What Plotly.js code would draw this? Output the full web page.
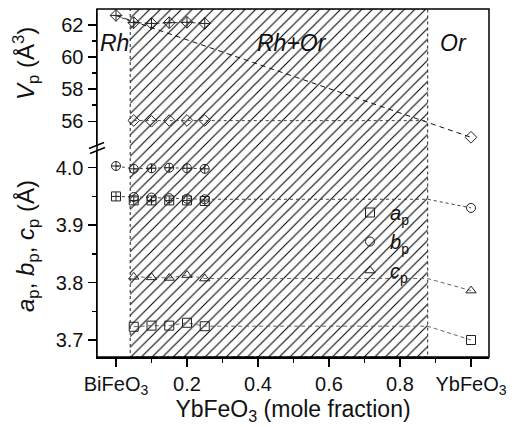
<!DOCTYPE html>
<html>
<head>
<meta charset="utf-8">
<script src="https://cdn.plot.ly/plotly-3.0.1.min.js"></script>
<style>html,body{margin:0;padding:0;background:#fff;}#chart{width:514px;height:427px;}</style>
</head>
<body>
<div id="chart"></div>
<script>
// ---- data ----
const xMix = [0.05, 0.10, 0.15, 0.20, 0.25];
const xBi = [0];
const xYb = [1];
const phaseBoundary = [0.04, 0.878];

// Unit-cell volume (top panel)
const vRhBi = [62.6];
const vRhMix = [62.15, 62.1, 62.15, 62.17, 62.1];
const vOrMix = [56.05, 56.0, 56.05, 56.05, 56.05];
const vOrYb = [55.0];

// Lattice parameters (bottom panel)
const rhBBi = [4.003];
const rhBMix = [3.998, 3.999, 4.0, 3.999, 3.998];
const rhABi = [3.950];
const rhAMix = [3.943, 3.943, 3.943, 3.943, 3.942];
const orBMix = [3.949, 3.948, 3.947, 3.946, 3.945];
const orBYb = [3.930];
const orCMix = [3.810, 3.809, 3.808, 3.813, 3.807];
const orCYb = [3.786];
const orAMix = [3.723, 3.725, 3.725, 3.730, 3.724];
const orAYb = [3.700];

const xTickVals = [0, 0.2, 0.4, 0.6, 0.8, 1.0];
const xTickText = ['BiFeO<sub>3</sub>', '0.2', '0.4', '0.6', '0.8', 'YbFeO<sub>3</sub>'];
const legendNames = ['<i>a</i><sub>p</sub>', '<i>b</i><sub>p</sub>', '<i>c</i><sub>p</sub>'];

// ---- helpers ----
const FONT = 'Liberation Sans, Arial, sans-serif';
const mk = (symbol) => ({symbol: symbol, size: 9, color: '#222', line: {color: '#222', width: 1}});
const avg = a => a.reduce((s, v) => s + v, 0) / a.length;
const last = a => a[a.length - 1];

const traces = [];
// hatch region
traces.push({
  x: [phaseBoundary[0], phaseBoundary[1], phaseBoundary[1], phaseBoundary[0], phaseBoundary[0]],
  y: [0, 0, 1, 1, 0], xaxis: 'x', yaxis: 'y', mode: 'lines', fill: 'toself',
  fillcolor: 'rgba(0,0,0,0)',
  fillpattern: {shape: '/', size: 7.5, solidity: 0.14, fgcolor: '#000', bgcolor: 'rgba(0,0,0,0)'},
  line: {color: '#222', width: 1, dash: 'dot'}, showlegend: false, hoverinfo: 'skip'
});

// ---- top panel lines ----
traces.push({x: [xBi[0], xYb[0]], y: [vRhBi[0], vOrYb[0]], xaxis: 'x', yaxis: 'y3', mode: 'lines',
  line: {color: '#111', width: 1, dash: '5px,4px'}, showlegend: false});
traces.push({x: [phaseBoundary[0] + 0.01, phaseBoundary[1]], y: [avg(vOrMix), avg(vOrMix)], xaxis: 'x', yaxis: 'y3', mode: 'lines',
  line: {color: '#444', width: 1, dash: '3px,3px'}, showlegend: false});
traces.push({x: xBi.concat(xMix), y: vRhBi.concat(vRhMix), xaxis: 'x', yaxis: 'y3', mode: 'lines',
  line: {color: '#333', width: 1, dash: '3px,3px'}, showlegend: false});
// top markers
traces.push({x: xBi.concat(xMix), y: vRhBi.concat(vRhMix), xaxis: 'x', yaxis: 'y3', mode: 'markers',
  marker: mk('diamond-cross-open'), showlegend: false});
traces.push({x: xMix.concat(xYb), y: vOrMix.concat(vOrYb), xaxis: 'x', yaxis: 'y3', mode: 'markers',
  marker: mk('diamond-open'), showlegend: false});

// ---- bottom panel lines ----
const guide = (xs, ys, yb, col, dash) => ({
  x: xs.concat([phaseBoundary[1], xYb[0]]), y: ys.concat([last(ys), yb]), xaxis: 'x', yaxis: 'y2', mode: 'lines',
  line: {color: col, width: 1, dash: dash}, showlegend: false});
traces.push({x: xBi.concat(xMix), y: rhBBi.concat(rhBMix), xaxis: 'x', yaxis: 'y2', mode: 'lines',
  line: {color: '#444', width: 1, dash: '3px,3px'}, showlegend: false});
traces.push(guide(xBi.concat(xMix), rhABi.concat(orBMix), orBYb[0], '#444', '3px,3px'));
traces.push(guide(xMix, orCMix, orCYb[0], '#666', '4px,3px'));
traces.push(guide(xMix, orAMix, orAYb[0], '#666', '4px,3px'));

// bottom markers
traces.push({x: xBi.concat(xMix), y: rhBBi.concat(rhBMix), xaxis: 'x', yaxis: 'y2', mode: 'markers', marker: mk('circle-cross-open'), showlegend: false});
traces.push({x: xBi, y: rhABi, xaxis: 'x', yaxis: 'y2', mode: 'markers', marker: mk('square-cross-open'), showlegend: false});
traces.push({x: xMix, y: rhAMix, xaxis: 'x', yaxis: 'y2', mode: 'markers', marker: mk('square-cross-open'), showlegend: false});
traces.push({x: xMix.concat(xYb), y: orBMix.concat(orBYb), xaxis: 'x', yaxis: 'y2', mode: 'markers', marker: mk('circle-open'), showlegend: false});
traces.push({x: xMix.concat(xYb), y: orCMix.concat(orCYb), xaxis: 'x', yaxis: 'y2', mode: 'markers', marker: mk('triangle-up-open'), showlegend: false});
traces.push({x: xMix.concat(xYb), y: orAMix.concat(orAYb), xaxis: 'x', yaxis: 'y2', mode: 'markers', marker: mk('square-open'), showlegend: false});

// legend entries
['square-open', 'circle-open', 'triangle-up-open'].forEach((s, i) => {
  traces.push({x: [null], y: [null], xaxis: 'x', yaxis: 'y2', mode: 'markers', marker: mk(s), name: legendNames[i], showlegend: true});
});

// pixel -> paper helpers (plot area: x 97..489, y 9..357)
const px = p => (p - 97) / 392;
const py = p => (357 - p) / 348;

const axisCommon = {showline: true, linecolor: '#000', linewidth: 1.5, ticks: 'outside', tickcolor: '#000', tickwidth: 1.5,
  ticklen: 8, showgrid: false, zeroline: false, tickfont: {family: FONT, size: 20, color: '#111'}};

const ann = (x, y, text, size, extra) => Object.assign({xref: 'paper', yref: 'paper', x: x, y: y, text: text, showarrow: false,
  xanchor: 'center', yanchor: 'middle', font: {family: FONT, size: size, color: '#111'}}, extra || {});

const layout = {
  width: 514, height: 427,
  margin: {l: 97, r: 25, t: 9, b: 70},
  paper_bgcolor: '#fff', plot_bgcolor: 'rgba(0,0,0,0)',
  font: {family: FONT, color: '#111'},
  xaxis: Object.assign({}, axisCommon, {
    domain: [0, 1], range: [-0.0535, 1.0507], anchor: 'y2',
    tickmode: 'array', tickvals: xTickVals, ticktext: xTickText,
    minor: {tickmode: 'array', tickvals: [0.1, 0.3, 0.5, 0.7, 0.9], ticks: 'outside', ticklen: 4, tickwidth: 1.5, tickcolor: '#000'},
    title: {text: 'YbFeO<sub>3</sub> (mole fraction)', font: {family: FONT, size: 23, color: '#111'}, standoff: 4}
  }),
  yaxis: {domain: [0, 1], range: [0, 1], visible: false, anchor: 'x', fixedrange: true},
  yaxis2: Object.assign({}, axisCommon, {
    domain: [0, py(150)], range: [3.6704, 4.0308], anchor: 'x',
    tickmode: 'array', tickvals: [3.7, 3.8, 3.9, 4.0], ticktext: ['3.7', '3.8', '3.9', '4.0'],
    minor: {tickmode: 'array', tickvals: [3.75, 3.85, 3.95], ticks: 'outside', ticklen: 4, tickwidth: 1.5, tickcolor: '#000'}
  }),
  yaxis3: Object.assign({}, axisCommon, {
    domain: [py(145), 1], range: [54.52, 63.0], anchor: 'x',
    tickmode: 'array', tickvals: [56, 58, 60, 62], ticktext: ['56', '58', '60', '62'],
    minor: {tickmode: 'array', tickvals: [57, 59, 61], ticks: 'outside', ticklen: 4, tickwidth: 1.5, tickcolor: '#000'}
  }),
  showlegend: true,
  legend: {x: px(350), y: py(193), xanchor: 'left', yanchor: 'top', bgcolor: 'rgba(0,0,0,0)',
    font: {family: FONT, size: 20, color: '#111'}, itemwidth: 30, tracegroupgap: 0},
  shapes: [
    {type: 'rect', xref: 'paper', yref: 'paper', x0: 0, x1: 1, y0: 0, y1: 1, line: {color: '#000', width: 1.5}},
    {type: 'line', xref: 'paper', yref: 'paper', x0: px(89), y0: py(148.5), x1: px(104), y1: py(142.5), line: {color: '#000', width: 1.5}},
    {type: 'line', xref: 'paper', yref: 'paper', x0: px(90), y0: py(153.5), x1: px(105), y1: py(147.5), line: {color: '#000', width: 1.5}}
  ],
  annotations: [
    ann(px(114), py(43), '<i>Rh</i>', 23),
    ann(px(291.5), py(43), '<i>Rh+Or</i>', 23),
    ann(px(453.5), py(43), '<i>Or</i>', 23),
    ann(px(26), py(64), '<i>V</i><sub>p</sub> (Å<sup>3</sup>)', 24, {textangle: -90}),
    ann(px(27), py(246), '<i>a</i><sub>p</sub>, <i>b</i><sub>p</sub>, <i>c</i><sub>p</sub> (Å)', 24, {textangle: -90})
  ]
};

Plotly.newPlot('chart', traces, layout, {staticPlot: true, displayModeBar: false});
</script>
</body>
</html>
